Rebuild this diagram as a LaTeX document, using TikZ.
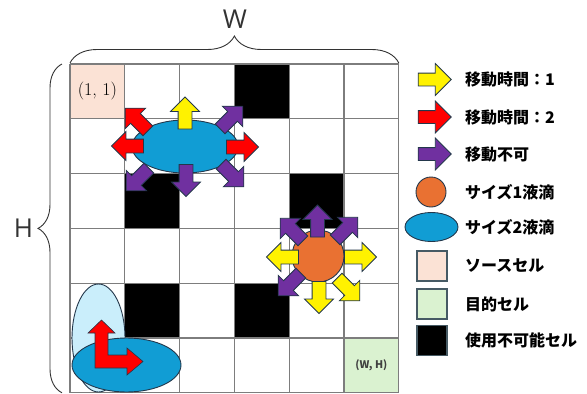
\documentclass[tikz,border=0pt]{standalone}
\usepackage{fontspec}
\usepackage{tikz}
\usetikzlibrary{shapes.geometric,shapes.arrows,decorations.pathreplacing,positioning}
\newfontfamily\jp{Noto Sans CJK JP}
\newfontfamily\latinsans{Open Sans}

\definecolor{srcpink}{RGB}{251,226,213}
\definecolor{goalgreen}{RGB}{218,242,208}
\definecolor{paleblue}{RGB}{202,238,251}
\definecolor{dropblue}{RGB}{17,157,212}
\definecolor{droporange}{RGB}{233,113,50}
\definecolor{mvpurple}{RGB}{112,48,160}
\definecolor{edgeblue}{RGB}{35,55,75}
\definecolor{gridgray}{RGB}{125,125,125}
\definecolor{boxgray}{RGB}{70,90,100}

\tikzset{
  gridline/.style={line width=1.3pt, draw=gridgray},
  cellbox/.style={minimum size=54.8pt, inner sep=0pt},
  drop/.style={draw=edgeblue, line width=0.9pt, inner sep=0pt},
  mvarrow/.style={single arrow, draw=edgeblue, line width=0.8pt, inner xsep=0pt,
    inner ysep=6.5pt, single arrow head extend=7.5pt, minimum height=32pt},
  legarrow/.style={mvarrow, inner ysep=6pt, single arrow head extend=9.5pt, minimum height=33pt},
  legbox/.style={minimum size=30pt, inner sep=0pt, draw=boxgray, line width=1.2pt},
  legtext/.style={anchor=west, inner sep=0pt, font=\jp\bfseries\fontsize{16}{16}\selectfont},
  bigletter/.style={inner sep=0pt, text=black!80, font=\latinsans\fontsize{26}{26}\selectfont},
  bracedeco/.style={decorate, draw=black!80, line width=0.9pt},
}

\begin{document}
\begin{tikzpicture}[x=1pt, y=-1pt]
    \useasboundingbox (0,0) rectangle (587,394);

    % cells
    \node[cellbox, fill=srcpink] (src) at (97.4,91.4) {\fontsize{18}{18}\selectfont (1, 1)};
    \node[cellbox, fill=goalgreen] (goal) at (371.4,365.4)
        {\color{black!75}\jp\bfseries\fontsize{10.5}{10.5}\selectfont (W, H)};
    \foreach \c/\r in {4/1,2/3,5/3,2/5,4/5}
        \node[cellbox, fill=black] (blk\c\r) at (42.6+54.8*\c, 36.6+54.8*\r) {};
    \foreach \i in {0,...,6} {
        \draw[gridline] (70+54.8*\i,64) -- (70+54.8*\i,392.8);
        \draw[gridline] (70,64+54.8*\i) -- (398.8,64+54.8*\i);
    }

    % W and H
    \node[bigletter] (wlab) at (235,19) {W};
    \node[bigletter] (hlab) at (23.5,228) {H};
    \coordinate (wl) at (70,63);
    \coordinate (wr) at (398.8,63);
    \coordinate (hb) at (62,392.8);
    \coordinate (ht) at (62,64);
    \draw[bracedeco, decoration={brace, amplitude=27pt}] (wl) -- (wr);
    \draw[bracedeco, decoration={brace, amplitude=24pt}] (hb) -- (ht);

    % droplets
    \node[drop, ellipse, fill=paleblue, minimum width=53pt, minimum height=108pt] (tall) at (98.5,338) {};
    \node[drop, ellipse, fill=dropblue, minimum width=109pt, minimum height=54pt] (flat) at (126.5,365) {};
    \node[drop, ellipse, fill=dropblue, minimum width=106pt, minimum height=53pt] (big) at (185,146.5) {};
    \node[drop, circle, fill=droporange, minimum size=52pt] (small) at (318,256) {};

    % moves of the size 2 droplet
    \node[mvarrow, fill=yellow, rotate=90] (bn) at (185,116.5) {};
    \node[mvarrow, fill=red, rotate=180] (bw) at (131,146) {};
    \node[mvarrow, fill=red, rotate=0] (be) at (239,147) {};
    \node[mvarrow, fill=red, rotate=135] (bnw) at (139,122) {};
    \node[mvarrow, fill=mvpurple, rotate=45] (bne) at (229,120) {};
    \node[mvarrow, fill=mvpurple, rotate=270] (bs) at (186,177) {};
    \node[mvarrow, fill=mvpurple, rotate=225] (bsw) at (140,177) {};
    \node[mvarrow, fill=mvpurple, rotate=315] (bse) at (230,173) {};

    % moves of the size 1 droplet
    \node[mvarrow, fill=mvpurple, rotate=90] (sn) at (317.5,224.5) {};
    \node[mvarrow, fill=mvpurple, rotate=135] (snw) at (294,232) {};
    \node[mvarrow, fill=mvpurple, rotate=45] (sne) at (344,231) {};
    \node[mvarrow, fill=yellow, rotate=180] (sw) at (286,257) {};
    \node[mvarrow, fill=yellow, rotate=0] (se) at (357,257) {};
    \node[mvarrow, fill=mvpurple, rotate=225] (ssw) at (292,282) {};
    \node[mvarrow, fill=yellow, rotate=270] (ss) at (319,294) {};
    \node[mvarrow, fill=yellow, rotate=315] (sse) at (346,287) {};

    % bent arrow
    \draw[draw=edgeblue, line width=0.6pt, fill=red] (95,368) -- (95,333) -- (88,333) -- (101.5,320)
        -- (115,333) -- (108,333) -- (108,355) -- (127,355) -- (127,348) -- (143,361.5)
        -- (127,375) -- (127,368) -- cycle;

    % legend
    \node[legarrow, fill=yellow] (lgfast) at (431.5,79.5) {};
    \node[legarrow, fill=red] (lgslow) at (431.5,117) {};
    \node[legarrow, fill=mvpurple] (lgno) at (431.5,154) {};
    \node[drop, circle, fill=droporange, minimum size=30pt] (lgone) at (431,192) {};
    \node[drop, ellipse, fill=dropblue, minimum width=53pt, minimum height=29pt] (lgtwo) at (431.5,227) {};
    \node[legbox, fill=srcpink] (lgsrc) at (432,266) {};
    \node[legbox, fill=goalgreen] (lggoal) at (432,304) {};
    \node[legbox, fill=black] (lgblk) at (432,340.5) {};

    \node[legtext] (txfast) at (465,79.5) {移動時間：1};
    \node[legtext] (txslow) at (465,117) {移動時間：2};
    \node[legtext] (txno) at (465,154) {移動不可};
    \node[legtext] (txone) at (465,192) {サイズ1液滴};
    \node[legtext] (txtwo) at (465,227) {サイズ2液滴};
    \node[legtext] (txsrc) at (465,266) {ソースセル};
    \node[legtext] (txgoal) at (465,304) {目的セル};
    \node[legtext] (txblk) at (465,340.5) {使用不可能セル};
\end{tikzpicture}
\end{document}
